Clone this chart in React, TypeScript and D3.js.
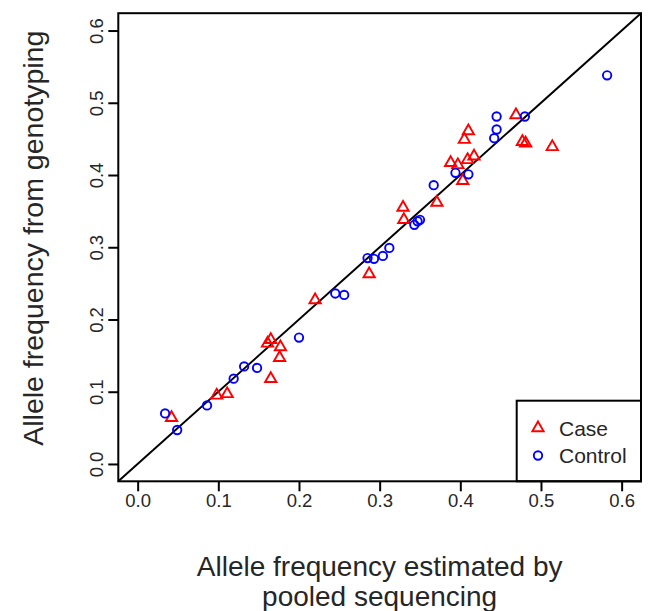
import React, { useEffect, useRef } from "react";
import * as d3 from "d3";

// allele frequency estimated by pooled sequencing (x) vs genotyping (y)
const caseX = [0.042, 0.098, 0.111, 0.165, 0.161, 0.165, 0.177, 0.176, 0.220, 0.287, 0.329, 0.330, 0.371, 0.403, 0.388, 0.397, 0.409, 0.417, 0.405, 0.410, 0.469, 0.477, 0.481, 0.514];
const caseY = [0.064, 0.095, 0.097, 0.118, 0.167, 0.172, 0.162, 0.147, 0.227, 0.263, 0.355, 0.338, 0.362, 0.392, 0.417, 0.414, 0.421, 0.426, 0.449, 0.461, 0.483, 0.446, 0.444, 0.439];

const controlX = [0.034, 0.049, 0.086, 0.119, 0.132, 0.148, 0.200, 0.245, 0.256, 0.285, 0.293, 0.304, 0.312, 0.343, 0.347, 0.350, 0.367, 0.394, 0.410, 0.442, 0.445, 0.445, 0.480, 0.582];
const controlY = [0.070, 0.047, 0.081, 0.118, 0.135, 0.133, 0.175, 0.236, 0.234, 0.285, 0.284, 0.288, 0.299, 0.331, 0.336, 0.338, 0.386, 0.403, 0.401, 0.451, 0.463, 0.481, 0.481, 0.538];

const tickValues = [0, 0.1, 0.2, 0.3, 0.4, 0.5, 0.6];
const legendLabels = ["Case", "Control"];

const W = 649, H = 611;
const TXT = "#262626";
const FONT = "'Liberation Sans', Arial, sans-serif";

// R pch=2 triangle path around (0,0), r = circle radius
function triPath(r: number) {
    const t0 = 1.5551 * r, t1 = 1.3468 * r, t2 = 0.7776 * r;
    return `M0,${-t0}L${t1},${t2}L${-t1},${t2}Z`;
}

export default function App() {
    const ref = useRef<SVGSVGElement>(null);

    useEffect(() => {
	document.body.style.margin = "0";
	const svg = d3.select(ref.current);
	svg.selectAll("*").remove();

	// xlim = ylim = c(0, 0.6), extended 4% like R
	const x = d3.scaleLinear().domain([-0.024, 0.624]).range([118.3, 641]);
	const y = d3.scaleLinear().domain([-0.024, 0.624]).range([481.3, 13.2]);

	const R0 = 4.2;

	// diagonal y = x
	svg.append("line")
	    .attr("x1", x(-0.024)).attr("y1", y(-0.024))
	    .attr("x2", x(0.624)).attr("y2", y(0.624))
	    .attr("stroke", "#000").attr("stroke-width", 2);

	// points
	svg.append("g").selectAll("path")
	    .data(caseX.map((v, i) => [v, caseY[i]]))
	    .join("path")
	    .attr("d", triPath(R0))
	    .attr("transform", d => `translate(${x(d[0])},${y(d[1])})`)
	    .attr("fill", "none").attr("stroke", "#ff0000").attr("stroke-width", 1.9);

	svg.append("g").selectAll("circle")
	    .data(controlX.map((v, i) => [v, controlY[i]]))
	    .join("circle")
	    .attr("cx", d => x(d[0])).attr("cy", d => y(d[1])).attr("r", R0)
	    .attr("fill", "none").attr("stroke", "#0000ff").attr("stroke-width", 1.9);

	// axes
	const xAxis = d3.axisBottom(x).tickValues(tickValues).tickSize(10).tickSizeOuter(0)
	    .tickFormat(d3.format(".1f"));
	const gX = svg.append("g").attr("transform", `translate(0, ${y.range()[0]})`).call(xAxis);
	gX.select(".domain").remove();
	gX.selectAll("line").attr("stroke", "#000").attr("stroke-width", 2);
	gX.selectAll("text").attr("y", 0).attr("dy", null)
	    .attr("transform", "translate(0,26)")
	    .attr("font-size", 18.5).attr("font-family", FONT).attr("fill", TXT);

	const yAxis = d3.axisLeft(y).tickValues(tickValues).tickSize(10).tickSizeOuter(0)
	    .tickFormat(d3.format(".1f"));
	const gY = svg.append("g").attr("transform", `translate(${x.range()[0]}, 0)`).call(yAxis);
	gY.select(".domain").remove();
	gY.selectAll("line").attr("stroke", "#000").attr("stroke-width", 2);
	gY.selectAll("text").attr("x", 0).attr("dy", null)
	    .attr("text-anchor", "middle")
	    .attr("transform", "translate(-15,0) rotate(-90)")
	    .attr("font-size", 18.5).attr("font-family", FONT).attr("fill", TXT);

	// legend box
	const lx = 516.7, ly = 400.7;
	svg.append("rect")
	    .attr("x", lx).attr("y", ly)
	    .attr("width", x.range()[1] - lx).attr("height", y.range()[0] - ly)
	    .attr("fill", "#fff").attr("stroke", "#000").attr("stroke-width", 2);
	const lg = svg.append("g");
	lg.append("path").attr("d", triPath(R0))
	    .attr("transform", `translate(538,428)`)
	    .attr("fill", "none").attr("stroke", "#ff0000").attr("stroke-width", 1.9);
	lg.append("circle").attr("cx", 538).attr("cy", 455.5).attr("r", R0)
	    .attr("fill", "none").attr("stroke", "#0000ff").attr("stroke-width", 1.9);
	lg.selectAll("text").data(legendLabels).join("text")
	    .attr("x", 559).attr("y", (d, i) => 435.5 + i * 27.5)
	    .attr("font-size", 21).attr("font-family", FONT).attr("fill", TXT)
	    .text(d => d);

	// plot box
	svg.append("rect")
	    .attr("x", x.range()[0]).attr("y", y.range()[1])
	    .attr("width", x.range()[1] - x.range()[0])
	    .attr("height", y.range()[0] - y.range()[1])
	    .attr("fill", "none").attr("stroke", "#000").attr("stroke-width", 2);

	// axis titles
	const cx = (x.range()[0] + x.range()[1]) / 2;
	svg.append("text").attr("x", cx).attr("y", 576)
	    .attr("text-anchor", "middle").attr("font-size", 28).attr("font-family", FONT).attr("fill", TXT)
	    .text("Allele frequency estimated by");
	svg.append("text").attr("x", cx).attr("y", 606)
	    .attr("text-anchor", "middle").attr("font-size", 28).attr("font-family", FONT).attr("fill", TXT)
	    .text("pooled sequencing");
	svg.append("text")
	    .attr("transform", `translate(42.5, ${(y.range()[0] + y.range()[1]) / 2 - 9}) rotate(-90)`)
	    .attr("text-anchor", "middle").attr("font-size", 28.5).attr("font-family", FONT).attr("fill", TXT)
	    .text("Allele frequency from genotyping");
    }, []);

    return (
	<svg width={W} height={H} ref={ref} style={{ display: "block", background: "#fff" }} />
    );
}
